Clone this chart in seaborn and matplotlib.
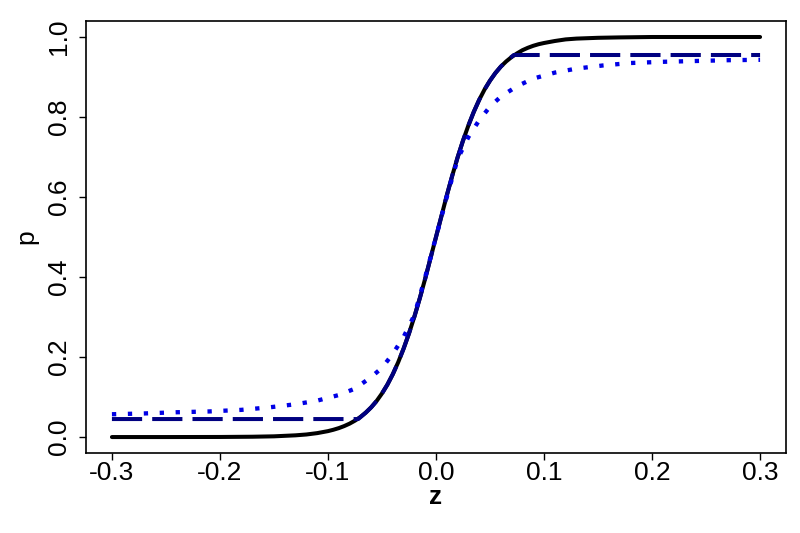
import matplotlib
matplotlib.use("Agg")
import matplotlib.pyplot as plt
import seaborn as sns

# values
z_solid = [-0.30, -0.25, -0.20, -0.17, -0.15, -0.13, -0.12, -0.11, -0.10, -0.095,
           -0.09, -0.085, -0.08, -0.075, -0.07, -0.065, -0.06, -0.055, -0.05, -0.045,
           -0.04, -0.035, -0.03, -0.025, -0.02, -0.015, -0.01, -0.005, 0.00,
           0.005, 0.01, 0.015, 0.02, 0.025, 0.03, 0.035, 0.04, 0.045, 0.05,
           0.055, 0.06, 0.065, 0.07, 0.075, 0.08, 0.085, 0.09, 0.095, 0.10,
           0.11, 0.12, 0.13, 0.15, 0.17, 0.20, 0.25, 0.30]
p_solid = [0.000, 0.000, 0.0002, 0.0008, 0.0018, 0.0043, 0.0064, 0.0098, 0.0148, 0.0182,
           0.0223, 0.0274, 0.0335, 0.0410, 0.0501, 0.0611, 0.0743, 0.090, 0.109, 0.131,
           0.157, 0.187, 0.221, 0.259, 0.301, 0.347, 0.396, 0.448, 0.500,
           0.552, 0.604, 0.653, 0.699, 0.741, 0.779, 0.813, 0.843, 0.869, 0.891,
           0.910, 0.926, 0.939, 0.950, 0.959, 0.967, 0.973, 0.978, 0.982, 0.985,
           0.990, 0.994, 0.996, 0.998, 0.999, 1.000, 1.000, 1.000]

z_dashed = [-0.30, -0.072, -0.065, -0.06, -0.055, -0.05, -0.045, -0.04, -0.035, -0.03,
            -0.025, -0.02, -0.015, -0.01, -0.005, 0.00, 0.005, 0.01, 0.015, 0.02,
            0.025, 0.03, 0.035, 0.04, 0.045, 0.05, 0.055, 0.06, 0.065, 0.072, 0.30]
p_dashed = [0.045, 0.045, 0.0611, 0.0743, 0.090, 0.109, 0.131, 0.157, 0.187, 0.221,
            0.259, 0.301, 0.347, 0.396, 0.448, 0.500, 0.552, 0.604, 0.653, 0.699,
            0.741, 0.779, 0.813, 0.843, 0.869, 0.891, 0.910, 0.926, 0.939, 0.955, 0.955]

z_dotted = [-0.30, -0.27, -0.24, -0.21, -0.18, -0.155, -0.13, -0.11, -0.09, -0.075,
            -0.06, -0.05, -0.04, -0.03, -0.02, -0.01, 0.00, 0.01, 0.02, 0.03,
            0.04, 0.05, 0.06, 0.075, 0.09, 0.11, 0.13, 0.155, 0.18, 0.21,
            0.24, 0.27, 0.30]
p_dotted = [0.057, 0.059, 0.062, 0.064, 0.068, 0.074, 0.082, 0.091, 0.105, 0.121,
            0.150, 0.173, 0.208, 0.250, 0.305, 0.400, 0.500, 0.600, 0.695, 0.750,
            0.792, 0.826, 0.851, 0.877, 0.896, 0.911, 0.921, 0.929, 0.935, 0.938,
            0.940, 0.942, 0.943]

x_ticks = [-0.3, -0.2, -0.1, 0.0, 0.1, 0.2, 0.3]
y_ticks = [0.0, 0.2, 0.4, 0.6, 0.8, 1.0]

sns.set_theme(style="white")
plt.rcParams['font.family'] = ['Liberation Sans', 'DejaVu Sans']

fig = plt.figure(figsize=(8, 5.33), dpi=100)
ax = fig.add_axes([0.1075, 0.150, 0.875, 0.8106])

lw = 2.9
sns.lineplot(x=z_solid, y=p_solid, ax=ax, color="black", linewidth=lw)
sns.lineplot(x=z_dashed, y=p_dashed, ax=ax, color="#000080", linewidth=lw)
ax.lines[-1].set_dashes((7.5, 2.5))
sns.lineplot(x=z_dotted, y=p_dotted, ax=ax, color="#0000E6", linewidth=3.1)
ax.lines[-1].set_dashes((1.0, 2.7))

ax.set_xlim(-0.324, 0.324)
ax.set_ylim(-0.04, 1.04)
ax.set_xticks(x_ticks)
ax.set_xticklabels([f"{v:.1f}" for v in x_ticks])
ax.set_yticks(y_ticks)
ax.set_yticklabels([f"{v:.1f}" for v in y_ticks], rotation=90, va="center")

ax.tick_params(axis="both", which="major", direction="out", length=5,
               width=1, color="black", labelsize=19, labelcolor="black")
ax.tick_params(axis="x", pad=1)
ax.tick_params(axis="y", pad=6)
ax.tick_params(bottom=True, left=True)

for s in ax.spines.values():
    s.set_color("black")
    s.set_linewidth(1.2)

ax.set_xlabel("z", fontsize=19, fontweight="bold", labelpad=0, color="black")
ax.set_ylabel("p", fontsize=19, labelpad=6, color="black")

fig.savefig("out.png", dpi=100)
